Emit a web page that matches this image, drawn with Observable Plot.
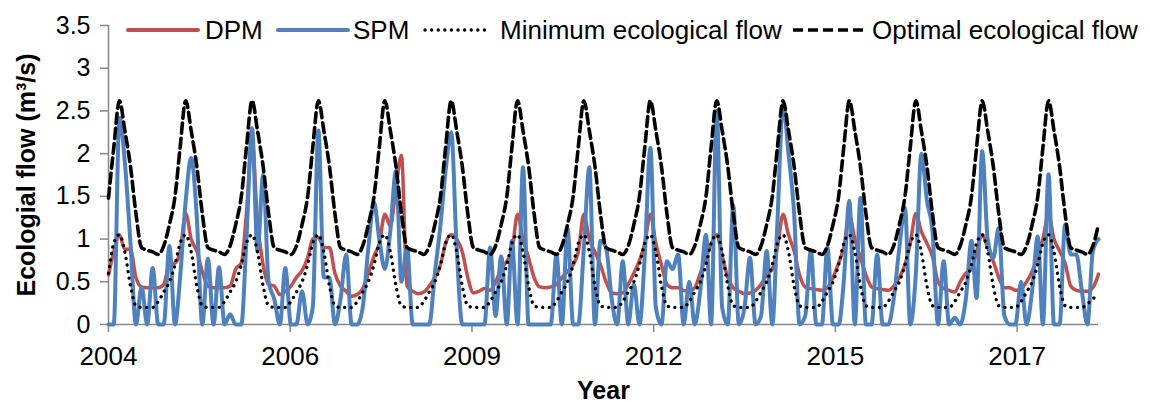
<!DOCTYPE html>
<html>
<head>
<meta charset="utf-8">
<script src="https://cdn.jsdelivr.net/npm/d3@7"></script>
<script src="https://cdn.jsdelivr.net/npm/@observablehq/plot@0.6"></script>
<style>
  html, body { margin: 0; padding: 0; background: #fff; }
  #chart { width: 1150px; height: 404px; }
</style>
</head>
<body>
<div id="chart"></div>
<script>
// ---------- DATA (monthly, Jan 2004 – Dec 2018) ----------
const seriesNames = ["DPM", "SPM", "Minimum ecological flow", "Optimal ecological flow"];

// DPM (red), one row per year
const dpm = [
  0.58, 0.85, 1.05, 0.88, 0.88, 0.55, 0.44, 0.43, 0.43, 0.43, 0.47, 0.70, // 2004
  0.72, 0.85, 1.30, 1.00, 0.86, 0.62, 0.45, 0.43, 0.43, 0.43, 0.45, 0.65, // 2005
  0.72, 1.30, 2.15, 1.20, 0.70, 0.47, 0.45, 0.35, 0.39, 0.45, 0.55, 0.63, // 2006
  0.78, 1.00, 1.02, 0.90, 0.90, 0.60, 0.45, 0.39, 0.33, 0.35, 0.42, 0.60, // 2007
  0.80, 0.95, 1.29, 1.15, 1.60, 1.98, 0.45, 0.39, 0.36, 0.38, 0.45, 0.55, // 2008
  0.70, 0.95, 1.05, 1.00, 0.85, 0.55, 0.37, 0.39, 0.42, 0.40, 0.50, 0.65, // 2009
  0.74, 0.86, 1.29, 1.00, 0.78, 0.55, 0.44, 0.43, 0.44, 0.47, 0.55, 0.62, // 2010
  0.70, 0.85, 1.29, 1.00, 0.85, 0.70, 0.50, 0.37, 0.36, 0.37, 0.47, 0.60, // 2011
  0.75, 0.95, 1.29, 0.95, 0.70, 0.47, 0.43, 0.43, 0.40, 0.39, 0.43, 0.60, // 2012
  0.80, 0.94, 1.05, 0.80, 0.55, 0.43, 0.39, 0.36, 0.37, 0.40, 0.47, 0.58, // 2013
  0.65, 0.90, 1.29, 1.05, 0.86, 0.58, 0.44, 0.42, 0.41, 0.40, 0.43, 0.55, // 2014
  0.72, 0.90, 1.28, 1.00, 0.78, 0.58, 0.44, 0.42, 0.41, 0.40, 0.45, 0.55, // 2015
  0.70, 0.95, 1.30, 1.09, 0.95, 0.80, 0.50, 0.42, 0.40, 0.38, 0.50, 0.60, // 2016
  0.65, 0.85, 1.05, 0.90, 0.74, 0.55, 0.43, 0.43, 0.40, 0.42, 0.50, 0.62, // 2017
  0.80, 1.00, 1.29, 1.00, 0.86, 0.72, 0.45, 0.40, 0.39, 0.39, 0.43, 0.59  // 2018
];

// SPM (blue)
const spm = [
  0.00, 0.00, 2.42, 1.90, 0.95, 0.00, 0.44, 0.00, 0.66, 0.00, 0.00, 0.92, // 2004
  0.00, 0.55, 1.45, 1.95, 1.25, 0.00, 0.77, 0.00, 0.67, 0.00, 0.12, 0.00, // 2005
  0.00, 1.00, 2.30, 0.85, 1.75, 0.50, 0.30, 0.00, 0.66, 0.00, 0.00, 0.39, // 2006
  0.00, 0.20, 2.27, 0.55, 0.55, 0.00, 0.30, 0.82, 0.00, 0.00, 0.20, 0.90, // 2007
  1.43, 1.00, 0.65, 1.10, 1.80, 0.50, 0.90, 0.00, 0.00, 0.00, 0.00, 0.60, // 2008
  1.17, 1.80, 2.25, 0.90, 0.00, 0.00, 0.00, 0.00, 0.00, 0.90, 0.10, 0.80, // 2009
  0.00, 0.98, 0.00, 1.84, 0.00, 0.00, 0.00, 0.00, 0.00, 0.82, 0.00, 1.13, // 2010
  0.00, 0.00, 0.90, 1.84, 0.00, 0.98, 0.90, 0.30, 0.00, 0.74, 0.00, 0.47, // 2011
  0.00, 0.80, 2.07, 0.20, 0.00, 0.74, 0.65, 0.82, 0.00, 0.50, 0.00, 0.40, // 2012
  1.05, 0.00, 2.50, 0.20, 0.00, 1.40, 0.00, 0.20, 0.78, 0.00, 0.10, 0.86, // 2013
  0.00, 1.20, 2.58, 2.00, 1.30, 0.00, 0.10, 0.86, 0.00, 0.00, 0.90, 0.00, // 2014
  0.00, 0.50, 1.45, 0.00, 1.48, 0.00, 0.00, 0.82, 0.00, 0.00, 0.30, 0.90, // 2015
  1.37, 0.00, 0.60, 2.00, 1.45, 1.10, 0.00, 0.74, 0.00, 0.08, 0.00, 0.30, // 2016
  0.98, 0.31, 2.03, 1.00, 0.78, 1.13, 0.10, 0.00, 0.00, 0.50, 0.00, 0.40, // 2017
  1.03, 0.00, 1.76, 0.00, 0.00, 1.17, 0.82, 0.82, 0.40, 0.00, 0.86, 1.00  // 2018
];

// Minimum ecological flow (dotted)
const minimumFlow = [
  0.60, 0.95, 1.05, 0.85, 0.45, 0.22, 0.20, 0.20, 0.20, 0.27, 0.38, 0.50, // 2004
  0.70, 0.95, 1.05, 0.85, 0.45, 0.22, 0.20, 0.20, 0.20, 0.27, 0.38, 0.50, // 2005
  0.70, 0.95, 1.05, 0.85, 0.45, 0.22, 0.20, 0.20, 0.20, 0.27, 0.38, 0.50, // 2006
  0.70, 0.95, 1.05, 0.85, 0.45, 0.22, 0.20, 0.20, 0.20, 0.27, 0.38, 0.50, // 2007
  0.70, 0.95, 1.05, 0.85, 0.45, 0.22, 0.20, 0.20, 0.20, 0.27, 0.38, 0.50, // 2008
  0.70, 0.95, 1.05, 0.85, 0.45, 0.22, 0.20, 0.20, 0.20, 0.27, 0.38, 0.50, // 2009
  0.70, 0.95, 1.05, 0.85, 0.45, 0.22, 0.20, 0.20, 0.20, 0.27, 0.38, 0.50, // 2010
  0.70, 0.95, 1.05, 0.85, 0.45, 0.22, 0.20, 0.20, 0.20, 0.27, 0.38, 0.50, // 2011
  0.70, 0.95, 1.05, 0.85, 0.45, 0.22, 0.20, 0.20, 0.20, 0.27, 0.38, 0.50, // 2012
  0.70, 0.95, 1.05, 0.85, 0.45, 0.22, 0.20, 0.20, 0.20, 0.27, 0.38, 0.50, // 2013
  0.70, 0.95, 1.05, 0.85, 0.45, 0.22, 0.20, 0.20, 0.20, 0.27, 0.38, 0.50, // 2014
  0.70, 0.95, 1.05, 0.85, 0.45, 0.22, 0.20, 0.20, 0.20, 0.27, 0.38, 0.50, // 2015
  0.70, 0.95, 1.05, 0.85, 0.45, 0.22, 0.20, 0.20, 0.20, 0.27, 0.38, 0.50, // 2016
  0.70, 0.95, 1.05, 0.85, 0.45, 0.22, 0.20, 0.20, 0.20, 0.27, 0.38, 0.50, // 2017
  0.70, 0.95, 1.05, 0.85, 0.45, 0.22, 0.20, 0.20, 0.20, 0.24, 0.30, 0.36  // 2018
];

// Optimal ecological flow (dashed)
const optimalFlow = [
  1.48, 2.07, 2.62, 2.27, 1.85, 1.30, 0.90, 0.87, 0.85, 0.82, 0.92, 1.17, // 2004
  1.50, 2.07, 2.62, 2.27, 1.85, 1.30, 0.90, 0.87, 0.85, 0.82, 0.92, 1.17, // 2005
  1.50, 2.07, 2.62, 2.27, 1.85, 1.30, 0.90, 0.87, 0.85, 0.82, 0.92, 1.17, // 2006
  1.50, 2.07, 2.62, 2.27, 1.85, 1.30, 0.90, 0.87, 0.85, 0.82, 0.92, 1.17, // 2007
  1.50, 2.07, 2.62, 2.27, 1.85, 1.30, 0.90, 0.87, 0.85, 0.82, 0.92, 1.17, // 2008
  1.50, 2.07, 2.62, 2.27, 1.85, 1.30, 0.90, 0.87, 0.85, 0.82, 0.92, 1.17, // 2009
  1.50, 2.07, 2.62, 2.27, 1.85, 1.30, 0.90, 0.87, 0.85, 0.82, 0.92, 1.17, // 2010
  1.50, 2.07, 2.62, 2.27, 1.85, 1.30, 0.90, 0.87, 0.85, 0.82, 0.92, 1.17, // 2011
  1.50, 2.07, 2.62, 2.27, 1.85, 1.30, 0.90, 0.87, 0.85, 0.82, 0.92, 1.17, // 2012
  1.50, 2.07, 2.62, 2.27, 1.85, 1.30, 0.90, 0.87, 0.85, 0.82, 0.92, 1.17, // 2013
  1.50, 2.07, 2.62, 2.27, 1.85, 1.30, 0.90, 0.87, 0.85, 0.82, 0.92, 1.17, // 2014
  1.50, 2.07, 2.62, 2.27, 1.85, 1.30, 0.90, 0.87, 0.85, 0.82, 0.92, 1.17, // 2015
  1.50, 2.07, 2.62, 2.27, 1.85, 1.30, 0.90, 0.87, 0.85, 0.82, 0.92, 1.17, // 2016
  1.50, 2.07, 2.62, 2.27, 1.85, 1.30, 0.90, 0.87, 0.85, 0.82, 0.92, 1.17, // 2017
  1.50, 2.07, 2.62, 2.27, 1.85, 1.30, 0.90, 0.87, 0.85, 0.82, 0.92, 1.17  // 2018
];

// Axis ticks (Excel date axis, 1000-day major unit, "yyyy" labels)
const xTickDates = ["2004-01-31", "2006-10-27", "2009-07-23", "2012-04-18", "2015-01-13", "2017-10-09"];
const xTickLabels = ["2004", "2006", "2009", "2012", "2015", "2017"];
const yTicks = [0, 0.5, 1, 1.5, 2, 2.5, 3, 3.5];
const yTickLabels = ["0", "0.5", "1", "1.5", "2", "2.5", "3", "3.5"];
const xTitle = "Year";
const yTitle = "Ecologial flow (m³/s)";

// ---------- BUILD ----------
const FONT = "'Liberation Sans', Arial, Helvetica, sans-serif";
const RED = "#C0504D", BLUE = "#4F81BD", AXIS = "#868686";

// month-end dates, Jan 2004 .. Dec 2018
const monthStarts = d3.utcMonth.range(new Date(Date.UTC(2004, 0, 1)), new Date(Date.UTC(2019, 0, 1)));
const dates = monthStarts.map(d => d3.utcDay.offset(d3.utcMonth.offset(d, 1), -1));
const table = dates.map((date, i) => ({
  date, dpm: dpm[i], spm: spm[i], min: minimumFlow[i], opt: optimalFlow[i]
}));
const tickDates = xTickDates.map(s => new Date(s + "T00:00:00Z"));

const chart = Plot.plot({
  width: 1150,
  height: 404,
  marginLeft: 108,
  marginRight: 52,
  marginTop: 25,
  marginBottom: 80,
  style: {fontFamily: FONT, background: "#fff", color: "#000", overflow: "visible"},
  x: {type: "utc", domain: [dates[0], dates[dates.length - 1]], label: null},
  y: {domain: [0, 3.5], label: null},
  marks: [
    Plot.axisY({
      ticks: yTicks,
      tickFormat: d => yTickLabels[yTicks.indexOf(d)],
      tickSize: 8, tickPadding: 10, fontSize: 25,
      stroke: AXIS, strokeWidth: 1.5, color: "#000", label: null
    }),
    Plot.axisX({
      ticks: tickDates,
      tickFormat: d => xTickLabels[tickDates.findIndex(t => +t === +d)],
      tickSize: 8, tickPadding: 14, fontSize: 26,
      stroke: AXIS, strokeWidth: 1.5, color: "#000", label: null
    }),
    Plot.ruleX([dates[0]], {stroke: AXIS, strokeWidth: 1.5}),
    Plot.ruleY([0], {stroke: AXIS, strokeWidth: 1.5}),
    Plot.line(table, {x: "date", y: "dpm", stroke: RED, strokeWidth: 3.5, curve: "monotone-x"}),
    Plot.line(table, {x: "date", y: "spm", stroke: BLUE, strokeWidth: 4, curve: "monotone-x"}),
    Plot.line(table, {x: "date", y: "min", stroke: "#000", strokeWidth: 3.3, strokeDasharray: "0.1 6.5", strokeLinecap: "round", curve: "monotone-x"}),
    Plot.line(table, {x: "date", y: "opt", stroke: "#000", strokeWidth: 3.6, strokeDasharray: "10 5", curve: "monotone-x"}),
    Plot.text([yTitle], {text: d => d, frameAnchor: "left", dx: -82, rotate: -90, textAnchor: "middle", lineAnchor: "middle", fontSize: 25, fontWeight: "bold", fill: "#000"}),
    Plot.text([xTitle], {text: d => d, frameAnchor: "bottom", dy: 74, textAnchor: "middle", lineAnchor: "bottom", fontSize: 25, fontWeight: "bold", fill: "#000"})
  ]
});

// ---------- LEGEND (inside the plot, top) ----------
const legendItems = [
  {name: seriesNames[0], x1: 128, x2: 198, tx: 205, stroke: RED, w: 4, dash: null, cap: "round"},
  {name: seriesNames[1], x1: 278, x2: 348, tx: 353, stroke: BLUE, w: 4, dash: null, cap: "round"},
  {name: seriesNames[2], x1: 425, x2: 488, tx: 500, stroke: "#000", w: 3.3, dash: "0.1 6.5", cap: "round"},
  {name: seriesNames[3], x1: 793, x2: 866, tx: 872, stroke: "#000", w: 3.6, dash: "10 5", cap: "butt"}
];
const svg = d3.select(chart);
const lg = svg.append("g").attr("font-family", FONT).attr("font-size", 26).attr("text-anchor", "start");
legendItems.forEach(it => {
  lg.append("line")
    .attr("x1", it.x1).attr("x2", it.x2).attr("y1", 30).attr("y2", 30)
    .attr("stroke", it.stroke).attr("stroke-width", it.w)
    .attr("stroke-linecap", it.cap)
    .attr("stroke-dasharray", it.dash);
  lg.append("text")
    .attr("x", it.tx).attr("y", 30)
    .attr("dominant-baseline", "central")
    .attr("text-anchor", "start")
    .attr("fill", "#000")
    .text(it.name);
});

document.getElementById("chart").appendChild(chart);
</script>
</body>
</html>
